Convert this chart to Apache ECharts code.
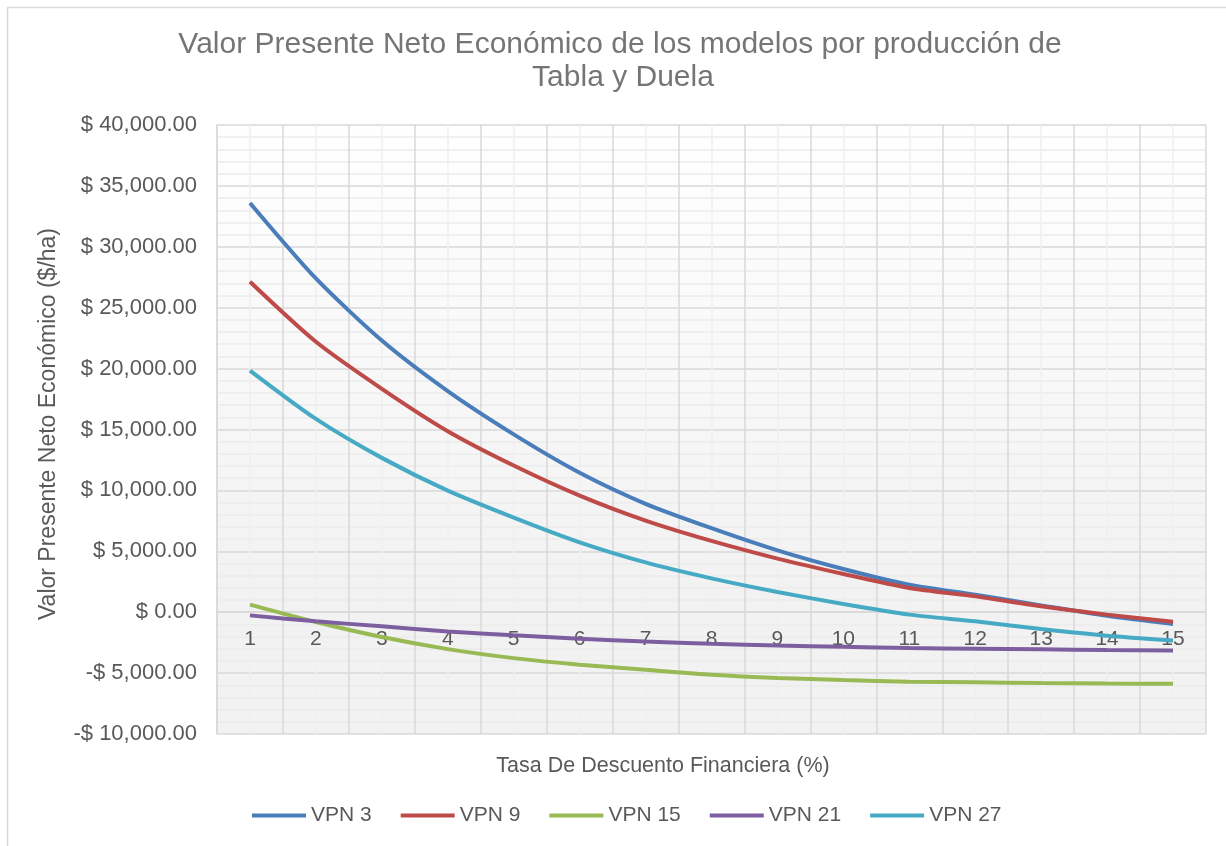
<!DOCTYPE html>
<html>
<head>
<meta charset="utf-8">
<script src="https://cdn.jsdelivr.net/npm/echarts@6/dist/echarts.min.js"></script>
<style>
  html, body { margin: 0; padding: 0; background: #fff; }
  #chart { width: 1226px; height: 846px; }
</style>
</head>
<body>
<div id="chart"></div>
<script>
// tasa de descuento (%)
const tasas = ['1', '2', '3', '4', '5', '6', '7', '8', '9', '10', '11', '12', '13', '14', '15'];

// VPN economico ($/ha)
const vpn3 = [33600, 27400, 22300, 18150, 14600, 11450, 8900, 6900, 5080, 3550, 2260, 1440, 560, -290, -970];
const vpn9 = [27130, 22200, 18340, 14860, 12040, 9570, 7520, 5850, 4400, 3140, 1990, 1300, 480, -200, -780];
const vpn15 = [620, -810, -2040, -3030, -3770, -4310, -4720, -5130, -5400, -5570, -5700, -5760, -5810, -5850, -5880];
const vpn21 = [-260, -750, -1160, -1580, -1900, -2180, -2400, -2590, -2730, -2840, -2940, -3000, -3050, -3100, -3140];
const vpn27 = [19840, 15870, 12670, 9980, 7770, 5740, 4090, 2780, 1660, 670, -200, -750, -1380, -1930, -2320];

const names = ['VPN 3', 'VPN 9', 'VPN 15', 'VPN 21', 'VPN 27'];
const colors = ['#4a7ebb', '#be4b48', '#98b954', '#7d5fa0', '#46aac5'];
const valores = [vpn3, vpn9, vpn15, vpn21, vpn27];

const textColor = '#595959';
const font = '"Liberation Sans", Arial, sans-serif';

const yMin = -10000;
const yMax = 40000;

function moneda(v) {
  const s = Math.abs(v).toLocaleString('en-US', { minimumFractionDigits: 2, maximumFractionDigits: 2 });
  return (v < 0 ? '-$ ' : '$ ') + s;
}

const gridTop = 125;
const gridBottom = 112;
const gridHeight = 846 - gridTop - gridBottom;
// el eje de categorias va sobre la linea del cero
const zeroOffset = -gridHeight * (0 - yMin) / (yMax - yMin);

const chart = echarts.init(document.getElementById('chart'));

const option = {
  animation: false,
  textStyle: { fontFamily: font },
  grid: {
    left: 217, top: gridTop, right: 20, bottom: gridBottom,
    show: true,
    borderWidth: 0,
    backgroundColor: new echarts.graphic.LinearGradient(0, 0, 0, 1, [
      { offset: 0, color: '#ffffff' },
      { offset: 0.75, color: '#f2f2f2' },
      { offset: 1, color: '#f2f2f2' }
    ])
  },
  legend: {
    data: names,
    left: 252,
    top: 805,
    padding: 0,
    icon: 'rect',
    itemWidth: 54,
    itemHeight: 4,
    itemGap: 29,
    textStyle: { fontSize: 21, color: textColor, fontFamily: font }
  },
  xAxis: [
    {
      type: 'category',
      data: tasas,
      boundaryGap: true,
      position: 'bottom',
      offset: zeroOffset,
      axisLine: { show: true, onZero: false, lineStyle: { color: '#d9d9d9', width: 1.5 } },
      axisTick: { show: false },
      axisLabel: { fontSize: 21, color: textColor, margin: 17, interval: 0 },
      splitLine: { show: true, interval: 0, lineStyle: { color: '#d9d9d9', width: 1.5 } }
    },
    {
      // solo para las lineas menores verticales
      type: 'value',
      min: 0.5,
      max: 15.5,
      interval: 1,
      position: 'bottom',
      axisLine: { show: false, onZero: false },
      axisTick: { show: false },
      axisLabel: { show: false },
      splitLine: { show: false },
      minorTick: { show: false, splitNumber: 2 },
      minorSplitLine: { show: true, lineStyle: { color: '#efefef', width: 1.5 } }
    }
  ],
  yAxis: {
    type: 'value',
    min: yMin,
    max: yMax,
    interval: 5000,
    axisLine: { show: true, onZero: false, lineStyle: { color: '#d9d9d9', width: 1.5 } },
    axisTick: { show: false },
    axisLabel: { fontSize: 22, color: textColor, margin: 20, formatter: moneda },
    splitLine: { show: true, lineStyle: { color: '#d9d9d9', width: 1.5 } },
    minorTick: { show: false, splitNumber: 5 },
    minorSplitLine: { show: true, lineStyle: { color: '#ececec', width: 1.5 } }
  },
  series: names.map((n, i) => ({
    name: n,
    type: 'line',
    data: valores[i],
    smooth: 0.25,
    symbol: 'none',
    lineStyle: { color: colors[i], width: 4 },
    itemStyle: { color: colors[i] }
  })),
  graphic: [
    {
      type: 'rect',
      shape: { x: 7.5, y: 7.5, width: 1260, height: 900 },
      style: { fill: 'none', stroke: '#d9d9d9', lineWidth: 1.5 },
      silent: true
    },
    {
      type: 'text',
      x: 620, y: 45,
      style: {
        text: 'Valor Presente Neto Económico de los modelos por producción de',
        fill: '#757575', font: '30px ' + font, textAlign: 'center', textVerticalAlign: 'middle'
      }
    },
    {
      type: 'text',
      x: 623, y: 78,
      style: {
        text: 'Tabla y Duela',
        fill: '#757575', font: '30px ' + font, textAlign: 'center', textVerticalAlign: 'middle'
      }
    },
    {
      type: 'text',
      x: 49, y: 424,
      rotation: Math.PI / 2,
      style: {
        text: 'Valor Presente Neto Económico ($/ha)',
        fill: textColor, font: '23px ' + font, textAlign: 'center', textVerticalAlign: 'middle'
      }
    },
    {
      type: 'text',
      x: 663, y: 766,
      style: {
        text: 'Tasa De Descuento Financiera (%)',
        fill: textColor, font: '21.5px ' + font, textAlign: 'center', textVerticalAlign: 'middle'
      }
    }
  ]
};

chart.setOption(option);
window.addEventListener('resize', () => chart.resize());
</script>
</body>
</html>
